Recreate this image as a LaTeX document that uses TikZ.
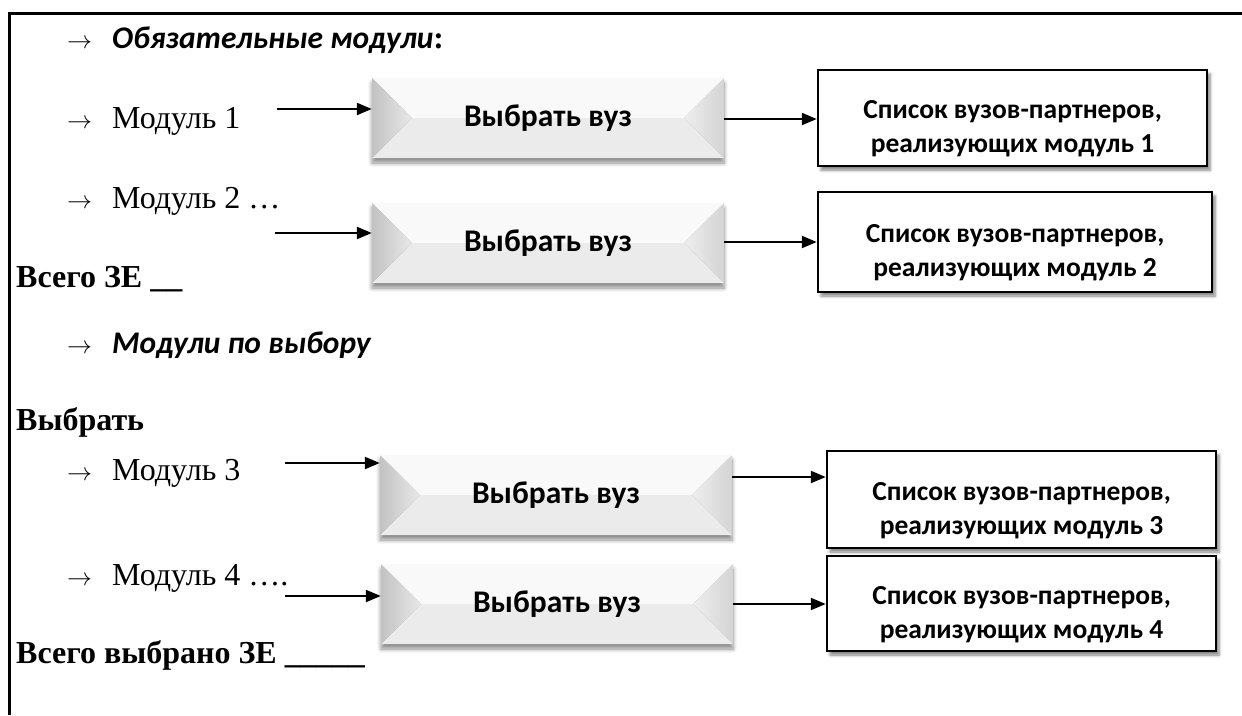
\documentclass[tikz,border=0pt]{standalone}
\usepackage{fontspec}
\setmainfont{Liberation Serif}
\newfontfamily\calfont{Carlito}
\usetikzlibrary{arrows.meta,shadows.blur}
\definecolor{bvtop}{HTML}{F9F9F9}
\definecolor{bvbot}{HTML}{EBEBEB}
\definecolor{bvleft}{HTML}{C2C2C2}
\definecolor{bvleftin}{HTML}{E8E8E8}
\definecolor{bvright}{HTML}{D4D4D4}
\definecolor{bvrightin}{HTML}{EEEEEE}
\newcommand\arr{\makebox[45pt][l]{$\rightarrow$}}
\newcommand\twol[2]{\raisebox{-17pt}[0pt][0pt]{\begin{tabular}{@{}c@{}}#1\\#2\end{tabular}}}
\tikzset{
  frameline/.style={line width=3pt,line join=miter},
  txt/.style={anchor=base west,inner sep=0pt,font=\fontsize{32}{38}\selectfont},
  arrline/.style={line width=2.3pt,-{Triangle[length=15pt,width=12pt]}},
  bevel/.style={minimum width=352pt,minimum height=80pt,inner sep=0pt,
    font=\calfont\bfseries\fontsize{31.5}{38}\selectfont,
    blur shadow={shadow xshift=0pt,shadow yshift=-5pt,shadow blur radius=4pt,shadow blur steps=6,shadow opacity=45},
    path picture={
      \fill[bvtop] (path picture bounding box.north west) -- (path picture bounding box.north east)
        -- ([xshift=-40pt]path picture bounding box.east) -- ([xshift=40pt]path picture bounding box.west) -- cycle;
      \fill[bvbot] (path picture bounding box.south west) -- (path picture bounding box.south east)
        -- ([xshift=-40pt]path picture bounding box.east) -- ([xshift=40pt]path picture bounding box.west) -- cycle;
      \shade[left color=bvleft,right color=bvleftin] (path picture bounding box.north west)
        -- ([xshift=40pt]path picture bounding box.west) -- (path picture bounding box.south west) -- cycle;
      \shade[left color=bvrightin,right color=bvright] (path picture bounding box.north east)
        -- ([xshift=-40pt]path picture bounding box.east) -- (path picture bounding box.south east) -- cycle;
    }},
  listbox/.style={draw,line width=2.5pt,fill=white,inner sep=0pt,
    font=\calfont\bfseries\fontsize{27.5}{34}\selectfont,
    blur shadow={shadow xshift=3pt,shadow yshift=-4pt,shadow blur radius=3pt,shadow blur steps=5,shadow opacity=50}}
}
\begin{document}
\begin{tikzpicture}[x=1pt,y=-1pt]
\useasboundingbox (0,0) rectangle (1242,715);
\draw[frameline] (9,715) -- (9,13) -- (1242,13);

% left texts
\node[txt] (h1) at (67,48) {\arr{\calfont\bfseries\itshape\fontsize{31.5}{36}\selectfont Обязательные модули}{\bfseries\fontsize{31.5}{36}\selectfont:}};
\node[txt] (m1) at (67,128) {\arr Модуль 1};
\node[txt] (m2) at (67,208) {\arr Модуль 2 …};
\node[txt] (z1) at (16,287) {\bfseries Всего ЗЕ \_\_};
\node[txt] (h2) at (67,353) {\arr{\calfont\bfseries\itshape\fontsize{31.5}{36}\selectfont Модули по выбору}};
\node[txt] (vb) at (16,430) {\bfseries Выбрать};
\node[txt] (m3) at (67,480) {\arr Модуль 3};
\node[txt] (m4) at (67,585) {\arr Модуль 4 ….};
\node[txt] (z2) at (16,663) {\bfseries Всего выбрано ЗЕ \_\_\_\_\_};

% bevel buttons
\node[bevel] (b1) at (548,118) {Выбрать вуз};
\node[bevel] (b2) at (548,243) {Выбрать вуз};
\node[bevel] (b3) at (556,495) {Выбрать вуз};
\node[bevel] (b4) at (557,604) {Выбрать вуз};

% list boxes
\node[listbox,minimum width=389pt,minimum height=96pt] (l1) at (1012.5,118) {\twol{Список вузов-партнеров,}{реализующих модуль 1}};
\node[listbox,minimum width=394pt,minimum height=100pt] (l2) at (1015,242) {\twol{Список вузов-партнеров,}{реализующих модуль 2}};
\node[listbox,minimum width=389pt,minimum height=97pt] (l3) at (1021.5,499.5) {\twol{Список вузов-партнеров,}{реализующих модуль 3}};
\node[listbox,minimum width=389pt,minimum height=95pt] (l4) at (1021.5,603.5) {\twol{Список вузов-партнеров,}{реализующих модуль 4}};

% input arrows
\coordinate (s1) at (277,109);
\coordinate (s2) at (275,233);
\coordinate (s3) at (285,463);
\coordinate (s4) at (285,596);
\draw[arrline] (s1) -- (b1.west |- s1);
\draw[arrline] (s2) -- (b2.west |- s2);
\draw[arrline] (s3) -- (b3.west |- s3);
\draw[arrline] (s4) -- (b4.west |- s4);

% output arrows
\coordinate (r1) at (724,119);
\coordinate (r2) at (724,242);
\coordinate (r3) at (732,477);
\coordinate (r4) at (733,604);
\draw[arrline] (b1.east |- r1) -- (l1.west |- r1);
\draw[arrline] (b2.east |- r2) -- (l2.west |- r2);
\draw[arrline] (b3.east |- r3) -- (l3.west |- r3);
\draw[arrline] (b4.east |- r4) -- (l4.west |- r4);
\end{tikzpicture}
\end{document}
